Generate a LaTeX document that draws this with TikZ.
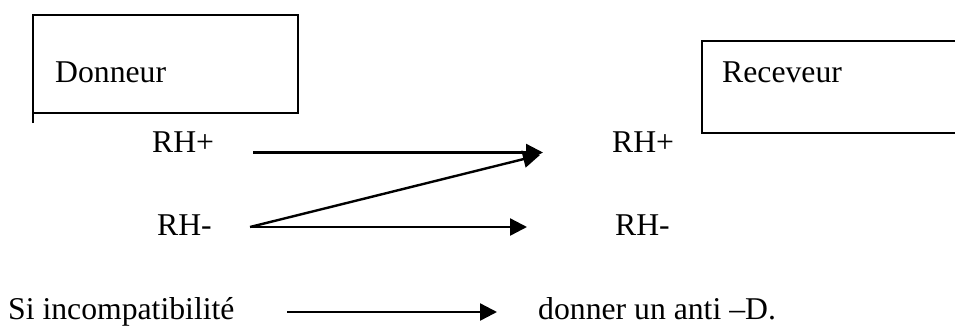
\documentclass[tikz,border=0pt]{standalone}
\usepackage{fontspec}
\setmainfont{Liberation Serif}
\usetikzlibrary{arrows.meta}
\begin{document}
\begin{tikzpicture}[x=1pt,y=-1pt,
  lbl/.style={inner sep=0pt,anchor=base west,font=\fontsize{31.7}{36}\selectfont},
  boxline/.style={line width=1.6pt},
  arr/.style={line width=2.4pt,-{Triangle[length=17pt,width=17pt]}}]
\useasboundingbox (0,0) rectangle (955,325);
% boxes
\draw[boxline] (33,123) -- (33,15) -- (298,15) -- (298,113) -- (33,113);
\draw[boxline] (960,41) -- (702,41) -- (702,133) -- (960,133);
% labels
\node[lbl] (don) at (55,82) {Donneur};
\node[lbl] (rec) at (722,82) {Receveur};
\node[lbl] (dp) at (152,152) {RH+};
\node[lbl] (dm) at (157,235) {RH-};
\node[lbl] (rp) at (612,152) {RH+};
\node[lbl] (rm) at (615,235) {RH-};
\node[lbl] (si) at (8,319) {Si incompatibilité};
\node[lbl] (dn) at (538,319) {donner un anti –D.};
% arrow end points
\coordinate (a1) at (253,152.5);
\coordinate (b1) at (543,152.5);
\coordinate (a2) at (250,227);
\coordinate (b2) at (540,155);
\coordinate (b3) at (527,227);
\coordinate (a4) at (287,312);
\coordinate (b4) at (497,312);
\draw[arr] (a1) -- (b1);
\draw[arr] (a2) -- (b2);
\draw[arr] (a2) -- (b3);
\draw[arr] (a4) -- (b4);
\end{tikzpicture}
\end{document}
